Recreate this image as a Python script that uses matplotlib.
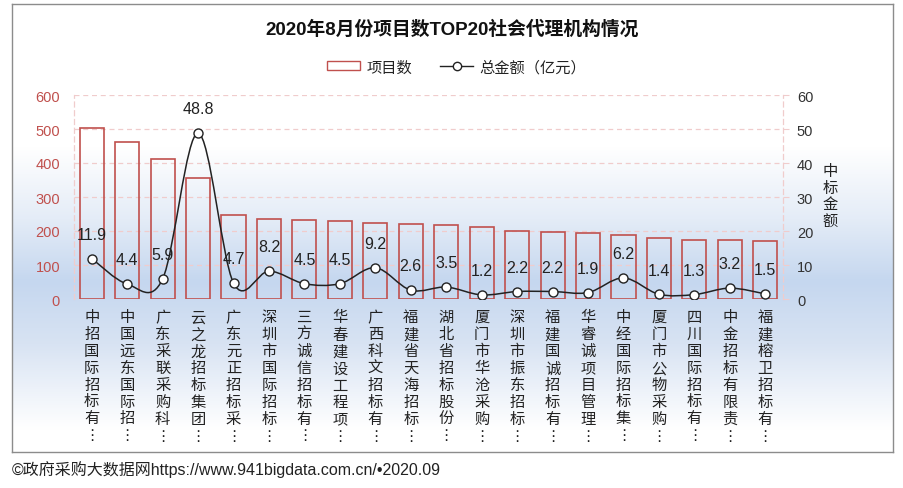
import numpy as np
import matplotlib
matplotlib.use("Agg")
import matplotlib.pyplot as plt
from matplotlib.path import Path
from matplotlib.patches import PathPatch, Rectangle
from matplotlib.lines import Line2D
from matplotlib.colors import LinearSegmentedColormap

plt.rcParams['font.family'] = ['Liberation Sans', 'Noto Sans CJK SC', 'DejaVu Sans']

# data
agencies = ["中招国际招标有", "中国远东国际招", "广东采联采购科", "云之龙招标集团",
            "广东元正招标采", "深圳市国际招标", "三方诚信招标有", "华春建设工程项",
            "广西科文招标有", "福建省天海招标", "湖北省招标股份", "厦门市华沧采购",
            "深圳市振东招标", "福建国诚招标有", "华睿诚项目管理", "中经国际招标集",
            "厦门市公物采购", "四川国际招标有", "中金招标有限责", "福建榕卫招标有"]
project_counts = [502, 461, 413, 355, 246, 234, 231, 228, 223, 220,
                  217, 213, 199, 196, 195, 187, 178, 175, 173, 172]
total_amount = [11.9, 4.4, 5.9, 48.8, 4.7, 8.2, 4.5, 4.5, 9.2, 2.6,
                3.5, 1.2, 2.2, 2.2, 1.9, 6.2, 1.4, 1.3, 3.2, 1.5]
left_ticks = [0, 100, 200, 300, 400, 500, 600]
right_ticks = [0, 10, 20, 30, 40, 50, 60]

RED = '#c0504d'
GRID = '#f0cccc'
TXT = '#222222'

W, H = 904, 489
fig = plt.figure(figsize=(W / 100, H / 100), dpi=100)


def fx(px):
    return px / W


def fy(py):
    return 1 - py / H


# framed background with the vertical blue gradient
bg = fig.add_axes([fx(12), fy(453), fx(881), 448 / H])
cmap = LinearSegmentedColormap.from_list('bg', [
    (0.0, '#ffffff'), (0.32, '#ffffff'), (0.48, '#e4ecf7'),
    (0.62, '#c5d7ef'), (0.76, '#d8e3f3'), (0.95, '#ffffff'), (1.0, '#ffffff')])
grad = np.linspace(0, 1, 256).reshape(-1, 1)
bg.imshow(grad, aspect='auto', cmap=cmap, extent=[0, 1, 1, 0])
bg.set_xticks([])
bg.set_yticks([])
for s in bg.spines.values():
    s.set_color('#8c8c8c')
    s.set_linewidth(1.0)

ax = fig.add_axes([fx(74), fy(300), fx(709), 204 / H])
ax.patch.set_alpha(0)
x = np.arange(len(agencies))

ax.bar(x, project_counts, width=0.68, facecolor='none', edgecolor=RED,
       linewidth=1.2, zorder=3)
ax.set_xlim(-0.5, len(agencies) - 0.5)
ax.set_ylim(0, 600)
ax.set_yticks(left_ticks)
ax.tick_params(axis='y', length=0, colors=RED, labelsize=10.5, pad=10)
ax.set_xticks(x)
ax.set_xticklabels(['\n'.join(a) + '\n⋮' for a in agencies], fontsize=11,
                   color=TXT, va='top', linespacing=1.26)
ax.tick_params(axis='x', length=0, pad=8)
ax.grid(axis='y', color=GRID, linestyle=(0, (4, 3)), linewidth=0.9, zorder=0)
for s in ax.spines.values():
    s.set_color(GRID)
    s.set_linestyle((0, (4, 3)))
    s.set_linewidth(0.9)
ax.spines['bottom'].set_visible(False)
ax.spines['top'].set_visible(False)

ax2 = ax.twinx()
ax2.set_ylim(0, 60)
ax2.set_yticks(right_ticks)
ax2.tick_params(axis='y', length=4, color=GRID, labelcolor='#333333',
                labelsize=10.5, pad=6)
for s in ax2.spines.values():
    s.set_visible(False)

# smoothed line (catmull-rom bezier through the points)
pts = np.column_stack([x, total_amount]).astype(float)
verts = [tuple(pts[0])]
codes = [Path.MOVETO]
n = len(pts)
for i in range(n - 1):
    p0 = pts[max(i - 1, 0)]
    p1 = pts[i]
    p2 = pts[i + 1]
    p3 = pts[min(i + 2, n - 1)]
    c1 = p1 + (p2 - p0) / 6
    c2 = p2 - (p3 - p1) / 6
    verts += [tuple(c1), tuple(c2), tuple(p2)]
    codes += [Path.CURVE4] * 3
ax2.add_patch(PathPatch(Path(verts, codes), facecolor='none',
                        edgecolor='#222222', linewidth=1.1, zorder=4))
ax2.plot(x, total_amount, linestyle='none', marker='o', markersize=6.5,
         markerfacecolor='white', markeredgecolor='#222222',
         markeredgewidth=1.0, zorder=5)
for xi, v in zip(x, total_amount):
    ax2.annotate(f'{v:.1f}', (xi, v), xytext=(0, 12), textcoords='offset points',
                 ha='center', va='bottom', fontsize=11.5, color=TXT, zorder=6)

fig.text(fx(830), fy(197), '中\n标\n金\n额', ha='center', va='center',
         fontsize=11, color=TXT, linespacing=1.26)

fig.text(0.5, fy(30), '2020年8月份项目数TOP20社会代理机构情况', ha='center',
         va='center', fontsize=13.5, fontweight='bold', color='#111111')

# legend
handles = [Rectangle((0, 0), 1, 1, facecolor='none', edgecolor=RED, linewidth=1.0),
           Line2D([], [], color='#222222', linewidth=1.0, marker='o',
                  markersize=6, markerfacecolor='white', markeredgecolor='#222222')]
fig.legend(handles, ['项目数', '总金额（亿元）'], loc='center',
           bbox_to_anchor=(0.505, fy(68)), ncol=2, frameon=False, fontsize=11,
           handlelength=2.2, handleheight=0.5, columnspacing=1.8,
           handletextpad=0.4, labelcolor=TXT)

fig.text(fx(12), fy(470), '©政府采购大数据网https://www.941bigdata.com.cn/•2020.09',
         ha='left', va='center', fontsize=11.5, color='#222222')

fig.savefig('out.png', dpi=100)
